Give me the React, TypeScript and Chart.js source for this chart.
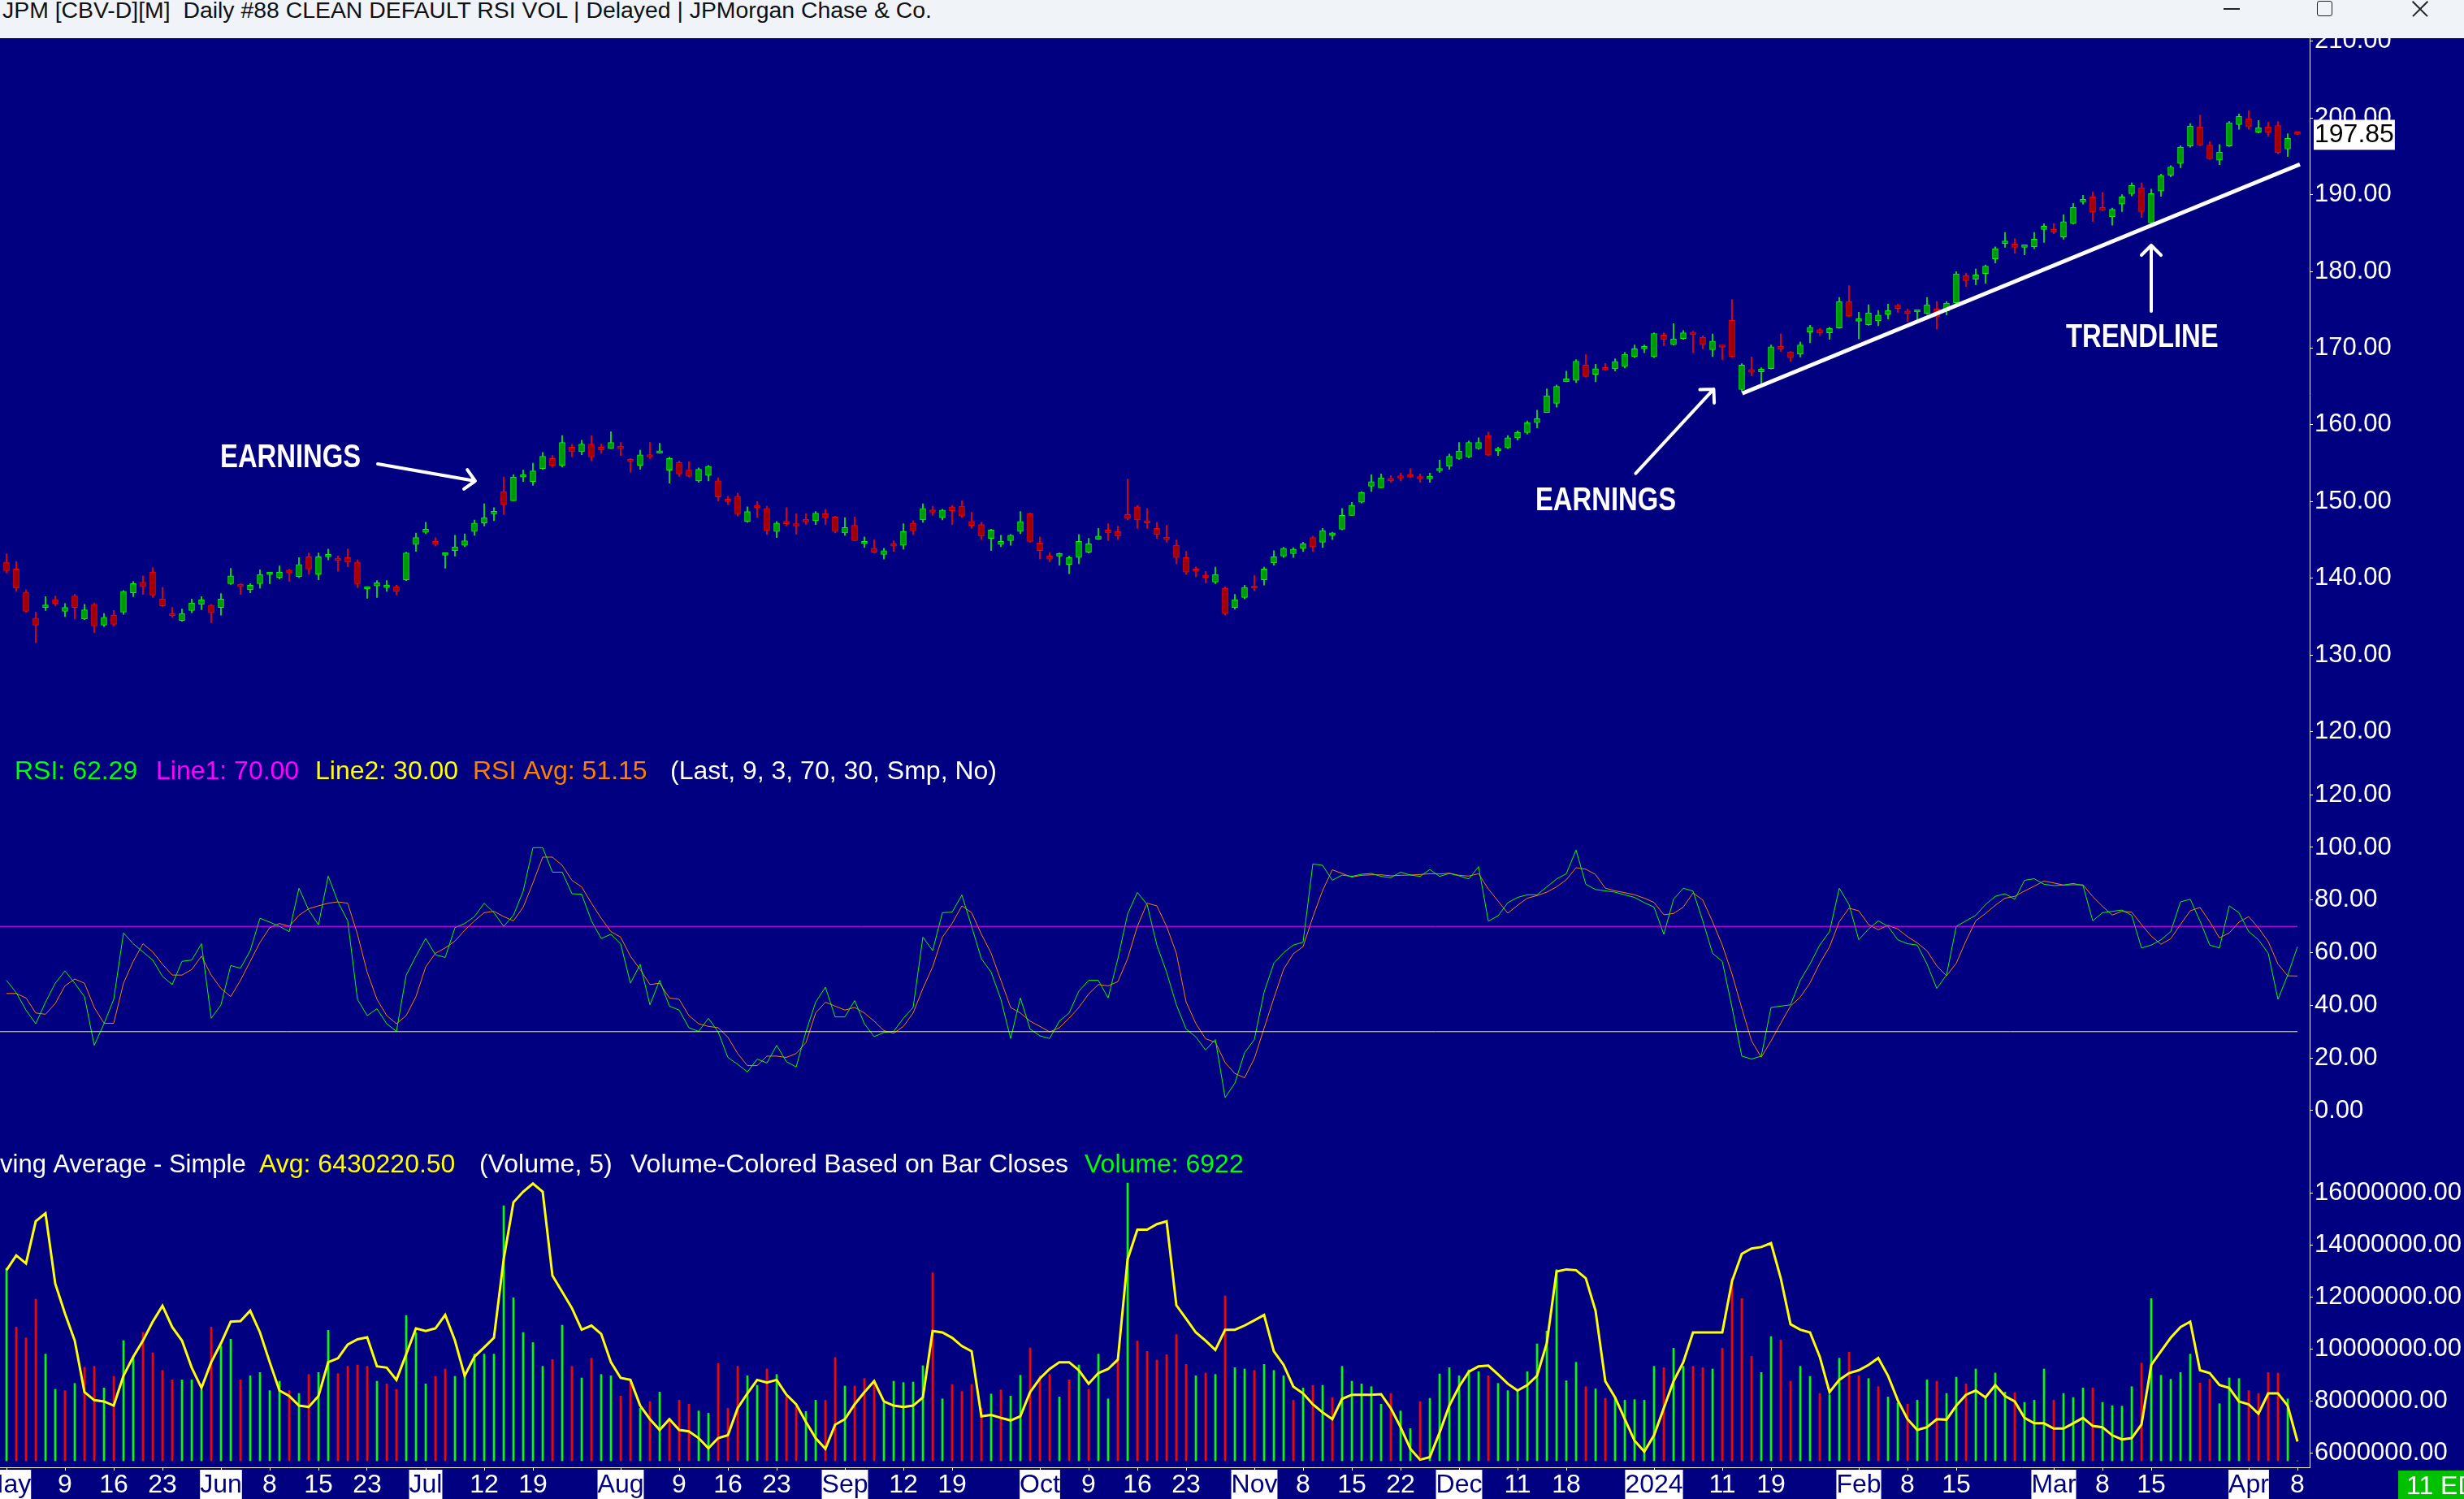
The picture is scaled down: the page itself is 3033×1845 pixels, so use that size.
import React, { useEffect, useRef } from 'react';
import { Chart, registerables } from 'chart.js';

Chart.register(...registerables);

const W = 3033;
const H = 1845;
const NAVY = '#000080';
const FONT = "'Liberation Sans', Arial, sans-serif";
const AXIS_W = 190;
const TITLE_H = 47;
const PRICE_H = 878;
const RSI_H = 475;
const VOL_H = 445;

// ---------------- data ----------------
const opens = [
  142.1,141.2,138.2,134.8,136.2,137.2,135.7,137.7,134.7,136.6,
  133.9,135.2,135.6,138.1,139.5,140.8,137.3,135.3,134.5,135.8,
  136.6,136.5,136.2,139.3,139.2,138.5,139.3,140.5,140.1,140.9,
  140.2,142.8,140.5,142.8,142.4,142.7,142.1,138.6,139.0,138.8,
  138.9,139.8,144.4,146.0,144.8,143.0,143.6,144.3,146.1,147.2,
  148.4,151.3,150.1,153.2,152.6,154.3,155.6,154.7,157.1,156.5,
  157.5,157.1,156.9,157.2,155.3,154.7,156.1,156.3,154.1,155.1,
  154.1,152.7,153.4,152.7,150.3,150.7,147.4,149.4,149.1,146.1,
  147.3,147.1,147.4,147.5,148.4,148.0,145.9,146.9,144.5,143.9,
  143.1,144.5,144.3,147.2,147.6,148.75,147.9,149.3,149.4,147.4,
  147.0,145.2,144.4,144.9,146.1,148.4,144.6,142.9,142.9,141.8,
  142.7,143.4,145.1,146.3,146.1,148.3,149.3,147.4,146.5,145.3,
  144.3,142.7,141.0,140.4,139.5,138.7,136.2,137.5,139.0,139.8,
  142.0,142.9,143.2,143.9,145.3,144.7,145.6,146.4,148.2,149.9,
  152.0,151.8,153.0,153.2,153.4,153.2,152.95,154.0,154.6,155.6,
  155.8,156.9,158.6,156.6,157.0,158.3,159.0,160.3,161.6,162.8,
  165.6,165.8,167.8,166.6,167.3,167.3,167.6,168.9,169.9,168.9,
  171.7,170.45,171.25,171.85,171.4,169.8,170.16,173.6,164.6,167.2,
  166.9,167.34,170.23,169.5,169.2,172.1,172.4,172.0,172.63,176.08,
  173.5,173.05,173.55,174.43,175.56,174.78,174.71,174.5,175.1,174.85,
  175.9,179.43,178.97,179.72,181.62,183.64,183.56,183.14,183.21,185.47,
  185.47,184.48,186.24,189.07,189.7,188.25,187.1,188.78,190.12,190.9,
  186.31,190.47,192.52,194.07,196.33,198.84,196.47,194.5,196.33,199.12,
  199.9,198.13,198.84,199.01,195.94,197.95
];
const highs = [
  143.2,142.2,138.5,135.6,137.6,137.7,136.7,137.9,136.6,136.8,
  135.4,135.8,138.4,139.6,140.3,141.4,138.8,136.2,136.0,137.3,
  137.6,136.6,138.0,141.3,139.3,139.3,141.1,140.7,141.6,141.2,
  142.7,143.3,143.3,143.8,142.9,143.8,142.4,138.9,139.7,139.7,
  139.1,143.4,145.9,147.3,145.3,143.3,145.6,145.8,147.6,149.7,
  149.2,153.2,153.5,154.1,155.0,156.4,156.0,158.6,157.5,158.0,
  158.6,157.5,159.1,157.7,155.6,156.7,157.7,157.6,155.8,155.3,
  155.2,154.4,154.7,153.1,150.7,151.1,149.3,150.0,149.4,147.4,
  149.2,148.4,148.4,148.7,149.0,148.1,147.9,148.0,145.4,145.0,
  143.9,144.9,147.1,147.5,149.7,149.4,149.0,149.5,150.1,148.6,
  147.3,146.4,145.6,145.7,148.7,148.5,145.4,143.35,143.3,142.9,
  145.7,145.2,146.5,147.1,146.8,152.9,149.5,149.1,147.3,146.9,
  145.0,143.5,141.5,140.9,141.45,138.9,137.9,139.1,140.4,141.45,
  143.6,144.05,144.0,144.7,145.5,146.5,146.0,149.1,149.9,151.3,
  153.5,153.6,153.4,153.7,154.3,153.6,153.7,155.4,156.2,157.7,
  157.9,158.3,159.05,157.1,158.6,159.2,160.5,161.9,164.7,165.2,
  167.0,168.5,169.2,167.9,168.0,168.6,169.45,170.4,170.4,172.0,
  172.0,173.2,172.3,172.2,171.57,171.85,170.3,176.3,167.97,168.85,
  167.44,170.4,171.85,169.56,170.8,172.98,172.56,172.7,176.6,178.13,
  174.67,175.66,174.92,175.73,175.73,175.1,174.92,176.6,176.08,176.08,
  179.96,179.79,180.32,180.85,183.2,185.08,184.27,183.42,185.08,186.2,
  186.24,187.37,188.85,189.91,190.37,190.3,188.25,190.0,191.54,191.54,
  190.72,192.66,193.79,196.37,199.26,200.35,196.9,196.54,199.54,200.5,
  200.95,199.65,199.44,199.54,197.95,198.05
];
const lows = [
  140.7,138.3,135.6,131.6,135.8,136.4,135.0,134.7,134.6,132.9,
  133.7,133.8,135.3,137.6,137.9,137.5,136.3,134.9,134.4,135.5,
  135.9,134.2,135.2,139.2,137.9,138.1,138.7,139.3,139.9,139.6,
  140.1,140.5,139.8,142.4,140.9,141.5,138.8,137.4,137.5,138.3,
  137.8,139.7,143.5,145.8,144.2,141.3,142.9,144.1,145.6,146.8,
  147.5,148.3,150.1,152.6,152.1,154.2,154.5,154.5,155.8,156.1,
  155.3,156.3,156.9,156.0,153.8,154.2,155.6,156.3,152.4,153.3,
  153.2,152.5,152.7,150.1,149.6,148.1,147.3,147.9,145.7,145.3,
  146.8,145.75,147.0,147.0,147.0,145.9,145.6,144.9,144.0,143.3,
  142.5,143.5,143.8,145.7,147.3,148.2,147.6,147.0,147.9,146.5,
  145.05,143.6,144.1,144.3,145.8,144.7,142.5,142.15,141.7,140.6,
  141.9,143.3,145.05,144.9,145.05,147.6,146.5,146.5,145.2,144.7,
  141.9,140.5,140.2,139.4,139.3,135.2,135.95,137.3,138.35,139.1,
  141.7,142.7,142.7,143.5,143.5,144.0,145.05,146.3,148.2,149.8,
  151.3,151.8,152.5,152.7,153.1,152.5,152.5,153.8,154.2,155.5,
  155.7,156.8,156.0,156.0,156.9,158.0,158.8,159.6,161.6,162.3,
  165.6,165.5,166.2,165.6,167.1,167.0,167.4,168.75,169.4,168.75,
  170.3,170.4,171.15,169.4,169.9,168.9,168.5,168.75,164.3,166.4,
  165.3,167.27,169.56,168.25,168.85,170.7,171.7,171.15,172.56,174.04,
  171.2,172.98,172.91,173.8,174.67,173.44,173.7,174.4,172.49,174.32,
  175.73,178.02,178.27,178.45,181.1,183.14,182.36,182.15,182.96,183.78,
  184.9,184.2,186.14,188.78,186.49,187.9,186.03,187.8,189.84,187.02,
  186.24,189.77,192.31,193.51,196.19,196.37,194.6,193.9,196.26,198.5,
  198.5,198.03,197.6,195.3,194.96,197.8
];
const closes = [
  141.0,138.7,135.7,133.9,136.4,136.7,136.2,136.2,135.9,133.8,
  134.9,134.0,138.3,139.3,138.9,137.8,136.4,135.1,135.4,136.8,
  137.2,135.5,137.3,140.3,138.9,139.1,140.5,140.6,140.8,140.7,
  141.8,141.2,142.8,143.0,142.3,142.1,139.3,138.9,139.4,139.0,
  138.3,143.3,145.3,146.4,144.4,143.2,144.1,144.9,147.2,147.9,
  148.7,149.6,153.2,153.4,154.0,155.9,154.7,157.7,156.5,157.5,
  155.8,156.7,157.7,156.9,155.2,156.1,155.8,156.6,155.6,153.6,
  153.3,154.2,154.6,150.6,150.0,148.4,148.7,149.2,146.2,147.2,
  147.1,146.8,147.35,148.5,147.9,146.1,146.6,144.9,144.8,143.4,
  143.6,144.2,146.1,146.2,149.1,148.6,148.9,148.8,148.1,146.9,
  145.5,146.3,144.8,145.6,147.4,144.8,143.6,142.5,143.2,142.7,
  144.8,144.5,145.5,145.9,145.5,147.8,147.6,147.2,145.7,145.05,
  142.7,140.8,140.9,140.1,140.5,135.4,137.2,138.8,138.7,141.2,
  142.8,143.9,143.8,144.5,144.1,146.2,145.7,148.2,149.5,151.2,
  152.6,153.1,152.7,153.05,153.2,152.95,153.3,154.2,155.9,156.6,
  157.7,157.7,156.05,156.7,158.3,159.0,160.3,160.8,163.8,165.0,
  166.0,168.3,166.3,167.3,167.15,168.25,169.2,169.9,170.1,171.9,
  171.15,171.2,172.0,171.75,170.45,170.9,170.1,168.9,167.8,166.85,
  167.27,170.16,169.87,168.75,170.4,172.7,172.0,172.56,176.08,174.15,
  173.6,174.6,174.3,174.92,175.17,174.5,174.8,175.66,174.04,175.87,
  179.68,178.8,179.54,180.67,182.96,183.8,183.14,183.28,184.2,185.9,
  185.12,186.49,188.32,189.35,187.73,188.0,188.08,189.7,191.18,187.8,
  190.12,192.49,193.61,196.19,198.94,196.47,194.67,195.56,199.37,200.18,
  198.84,198.73,198.13,195.49,197.32,197.85
];

const rsiValues = [
  49.5,44.8,38.2,33.0,41.2,48.4,53.1,48.4,43.3,24.8,
  33.0,42.3,67.5,63.4,60.3,57.2,51.0,47.9,56.7,57.2,
  63.4,35.1,40.2,55.1,54.1,60.8,73.1,71.6,70.0,68.0,
  84.5,76.2,70.6,89.1,79.3,72.1,42.3,36.1,38.7,33.0,
  30.1,51.5,58.7,65.4,59.2,58.2,69.5,71.1,73.7,78.8,
  75.2,70.0,74.2,83.4,99.9,99.9,90.6,90.6,82.4,82.2,
  72.1,65.4,67.0,63.4,48.4,55.6,40.2,49.5,39.7,38.2,
  31.5,30.1,35.1,29.9,20.2,17.6,14.7,19.6,18.1,24.8,
  18.6,16.6,29.9,41.2,46.9,35.6,35.6,41.8,33.0,28.1,
  29.7,30.1,35.1,39.2,65.9,60.8,75.2,75.4,81.9,70.0,
  57.7,52.6,42.3,27.4,42.8,31.0,28.4,27.4,34.0,37.1,
  45.4,49.5,49.5,42.8,57.7,74.7,82.9,78.3,62.9,52.6,
  40.2,31.0,28.0,23.0,27.0,5.0,10.4,22.0,27.0,45.0,
  56.0,60.0,62.9,64.0,93.7,93.2,87.5,89.5,89.0,89.8,
  90.1,89.0,88.5,90.6,89.5,89.0,91.6,89.0,90.1,89.2,
  88.0,92.7,72.0,74.0,79.0,81.0,82.0,82.0,85.0,88.0,
  90.0,99.0,86.0,84.0,83.5,83.0,82.0,81.0,79.0,77.3,
  67.0,80.3,84.5,83.4,72.1,59.8,56.7,39.2,20.7,19.6,
  20.7,39.2,39.7,40.2,49.5,55.7,62.9,68.0,84.5,78.3,
  64.9,69.0,72.1,70.0,64.9,63.4,62.9,55.7,46.4,51.5,
  70.0,72.1,74.2,78.3,81.4,82.4,80.3,87.5,88.1,86.0,
  85.5,85.7,86.3,85.5,72.1,75.2,75.7,76.2,74.2,61.8,
  62.9,64.9,68.0,79.3,80.3,72.1,62.9,61.8,77.8,75.2,
  68.0,64.9,59.8,42.3,51.5,62.29
];
const rsiAvgValues = [
  44.5,44.5,42.8,37.1,36.6,40.7,47.4,50.0,48.4,39.2,
  33.2,33.2,48.4,56.7,63.4,60.3,55.6,51.5,51.5,53.6,
  58.7,51.5,46.4,43.3,49.5,56.7,63.9,69.5,71.1,70.0,
  74.2,76.7,77.8,78.8,79.3,78.8,67.0,52.6,42.3,36.1,
  33.0,36.1,43.3,54.6,59.8,61.8,64.4,68.5,72.1,75.2,
  75.7,73.7,72.1,77.3,86.5,96.3,96.3,93.2,87.5,85.0,
  78.8,73.1,68.0,65.9,58.7,53.6,47.9,48.4,42.8,42.3,
  36.1,33.0,32.0,31.5,27.9,21.7,17.1,17.1,20.7,20.7,
  20.2,21.7,25.8,37.1,41.2,39.7,38.2,39.2,37.1,34.0,
  30.4,29.4,32.0,37.1,46.4,54.6,65.9,71.1,77.8,75.2,
  67.0,59.8,49.5,39.2,37.1,34.0,32.0,29.9,31.5,35.1,
  39.2,44.3,47.9,47.4,49.0,57.7,70.0,78.8,77.8,70.0,
  59.8,41.3,33.1,27.3,26.0,18.3,14.1,12.5,19.8,31.3,
  42.7,53.7,59.6,62.3,73.5,83.6,91.5,90.1,88.7,89.4,
  89.6,89.6,89.2,89.4,89.5,89.7,90.0,89.9,90.2,89.4,
  89.1,90.0,84.2,79.6,75.0,78.0,80.7,81.7,83.0,85.0,
  87.7,92.3,91.7,89.7,84.5,83.5,82.8,82.0,80.7,79.1,
  74.4,74.9,77.3,82.7,80.0,71.8,62.9,51.9,38.9,26.5,
  20.3,26.5,33.2,39.7,43.1,48.5,56.0,62.2,71.8,76.9,
  75.9,70.7,68.7,70.4,69.0,66.1,63.7,60.7,55.0,51.2,
  56.0,64.5,72.1,74.9,78.0,80.7,81.4,83.4,85.3,87.2,
  86.5,85.7,85.8,85.8,81.3,77.6,74.3,75.7,75.4,70.7,
  66.3,63.2,65.3,70.7,75.9,77.2,71.8,65.6,67.5,71.6,
  73.7,69.4,64.2,55.7,51.2,51.15
];
const rsiLine1 = 70;
const rsiLine2 = 30;

// volume in millions of shares (last bar: 6922 shares)
const volumesM = [
  20.17,14.01,12.88,16.93,11.18,7.49,7.35,8.11,9.81,9.90,
  7.63,8.85,12.59,10.89,13.44,11.32,9.47,8.48,8.48,8.48,
  7.43,14.01,12.03,12.74,8.48,8.91,9.25,7.35,8.34,7.35,
  7.06,9.05,9.25,13.67,9.13,9.90,10.04,9.90,8.34,8.06,
  7.49,15.23,13.44,8.06,8.85,9.62,8.85,8.91,11.18,11.18,
  11.18,26.72,17.08,13.44,12.39,9.90,10.61,14.21,9.90,8.68,
  10.75,9.05,8.91,6.78,8.48,5.50,6.21,7.20,4.37,6.35,
  5.93,5.22,4.99,10.18,5.50,9.90,8.91,7.91,9.62,9.05,
  6.69,5.64,5.16,6.35,6.35,10.83,7.83,7.83,8.62,8.42,
  6.07,8.34,8.20,8.25,9.96,19.69,6.49,8.00,7.26,8.00,
  5.50,7.00,7.43,6.78,8.96,11.83,8.91,9.05,6.69,8.48,
  10.04,7.49,11.18,6.49,10.61,29.1,12.54,11.46,10.55,11.12,
  13.22,10.10,8.91,9.19,9.05,17.27,9.76,9.62,9.47,10.10,
  9.47,8.91,6.35,7.63,7.91,7.91,6.63,9.90,8.34,8.06,
  7.77,5.93,7.06,5.22,3.37,6.21,6.55,9.10,9.76,8.91,
  9.53,9.33,8.91,8.11,7.35,7.35,9.33,12.25,13.59,20.03,
  8.39,10.32,7.77,7.54,6.55,6.69,6.35,6.41,6.35,9.90,
  9.76,11.80,9.90,9.90,9.76,9.62,11.80,19.12,16.99,10.95,
  9.25,13.02,12.65,8.34,9.90,8.85,7.06,6.92,10.75,11.37,
  8.91,8.62,7.77,6.69,6.07,5.93,6.35,8.48,8.34,7.06,
  8.76,8.06,9.62,6.78,9.19,7.20,7.15,6.12,6.35,9.62,
  6.35,7.06,6.63,7.63,7.63,6.12,5.78,5.73,7.77,10.24,
  16.99,8.96,8.54,9.25,11.18,8.14,8.56,5.98,8.68,8.62,
  7.35,7.06,9.25,9.19,6.49,0.006922
];
// 5-period simple moving average of volume, millions
const volumeMaM = [
  13.02,13.59,13.28,14.9,15.21,12.5,11.35,10.31,8.33,8.02,
  7.97,7.81,8.96,9.69,10.31,11.04,11.65,10.83,10.31,9.27,
  8.49,9.48,10.21,11.04,11.06,11.46,10.625,9.48,8.39,8.18,
  7.81,7.76,8.18,9.48,9.63,10.16,10.36,10.44,9.32,9.27,
  8.80,9.79,10.78,10.68,10.78,11.3,10.31,8.96,9.69,10.05,
  10.42,13.44,15.63,16.04,16.35,16.04,12.81,12.19,11.56,10.73,
  10.89,10.57,9.48,8.875,8.80,7.81,7.29,6.875,7.29,6.875,
  6.82,6.56,6.17,6.56,6.67,7.71,8.28,8.80,8.70,8.80,
  8.23,7.86,7.19,6.56,6.15,7.08,7.29,7.86,8.33,8.75,
  7.97,7.81,7.76,7.81,8.125,10.68,10.625,10.42,10.1,9.9,
  7.40,7.45,7.34,7.24,7.40,8.33,8.85,9.22,9.48,9.48,
  9.17,8.65,9.06,9.22,9.58,13.44,14.58,14.58,14.79,14.9,
  11.67,11.15,10.625,10.31,9.95,10.73,10.73,10.89,11.09,11.3,
  9.9,9.375,8.54,8.28,7.86,7.55,7.29,8.07,8.23,8.23,
  8.23,8.25,7.71,6.98,6.15,5.73,5.83,6.77,7.81,8.54,
  9.11,9.32,9.35,9.01,8.65,8.39,8.6,8.96,10.21,12.97,
  13.05,13.02,12.71,11.46,8.75,8.125,7.29,6.46,6.04,6.67,
  7.71,8.75,9.48,10.625,10.625,10.625,10.625,12.6,13.65,13.85,
  13.91,14.06,12.71,10.94,10.73,10.625,9.69,8.33,8.80,9.06,
  9.17,9.375,9.64,8.96,8.02,7.29,6.875,6.98,7.29,7.27,
  7.81,8.23,8.39,8.125,8.6,8.18,7.97,7.34,7.13,7.13,
  6.93,6.93,7.13,7.34,7.03,6.98,6.67,6.51,6.56,7.08,
  9.375,9.9,10.42,10.83,11.04,9.17,9.06,8.6,8.49,7.97,
  7.86,7.5,8.28,8.28,7.81,6.4302205
];

const xTickIndex = [0,6,11,16,22,27,32,37,43,49,54,63,69,74,79,86,92,97,106,111,116,121,128,133,138,143,149,155,160,169,176,181,190,195,200,210,215,220,230,235];
const xTickLabels = ['May','9','16','23','Jun','8','15','23','Jul','12','19','Aug','9','16','23','Sep','12','19','Oct','9','16','23','Nov','8','15','22','Dec','11','18','2024','11','19','Feb','8','15','Mar','8','15','Apr','8'];
const priceTicks = [120,130,140,150,160,170,180,190,200,210];
const rsiTicks = [0,20,40,60,80,100,120];
const volTicks = [6000000,8000000,10000000,12000000,14000000,16000000];

// annotations (bar index, price)
const trendLine = [{ x: 178.05, y: 164.09 }, { x: 235.25, y: 193.95 }];
const noteTexts = [
  { text: 'EARNINGS', x: 21.92, y: 154.48 },
  { text: 'EARNINGS', x: 156.83, y: 148.87 },
  { text: 'TRENDLINE', x: 211.25, y: 170.15 },
];
const noteArrows = [
  { from: [38.08, 154.9], to: [48.08, 152.68] },
  { from: [167.12, 153.67], to: [175.12, 164.65] },
  { from: [220.0, 174.81], to: [220.0, 183.39] },
];

// ---------------- helpers ----------------
const X_MIN = -8 / 12;
const X_MAX = (2843 - 8) / 12;
const idx = closes.map((_, i) => i);
const last = closes.length - 1;

const GREEN = '#00ff00';
const RED = '#ff0000';
const GREEN_FILL = '#009a00';
const RED_FILL = '#a00000';

const candleUp = idx.map((i) => closes[i] >= opens[i]);
const volUp = idx.map((i) => (i === 0 ? true : closes[i] >= closes[i - 1]));

const bgPlugin = {
  id: 'navyBg',
  beforeDraw(chart: any) {
    const { ctx, width, height } = chart;
    ctx.save();
    ctx.fillStyle = NAVY;
    ctx.fillRect(0, 0, width, height);
    ctx.restore();
  },
};

function hiddenX() {
  return {
    type: 'linear', min: X_MIN, max: X_MAX, display: false, offset: false, grid: { offset: false },
    afterFit: (s: any) => { s.paddingLeft = 0; s.paddingRight = 0; },
  };
}

function rightAxis(min: number, max: number, ticks: number[], extra: any = {}) {
  return {
    type: 'linear',
    position: 'right',
    min,
    max,
    afterBuildTicks: (s: any) => {
      s.ticks = ticks.map((v) => ({ value: v }));
    },
    afterFit: (s: any) => {
      s.width = AXIS_W;
      s.paddingTop = 0;
      s.paddingBottom = 0;
    },
    ticks: {
      color: '#ffffff',
      font: { family: FONT, size: 31 },
      padding: 2,
      autoSkip: false,
      callback: (v: any) => Number(v).toFixed(2),
    },
    grid: { drawOnChartArea: false, drawTicks: true, tickLength: 4, color: '#ffffff', tickWidth: 1 },
    border: { display: true, color: '#ffffff', width: 1 },
    ...extra,
  };
}

const baseOptions = {
  animation: false,
  responsive: false,
  maintainAspectRatio: false,
  devicePixelRatio: 1,
  events: [],
  layout: { padding: 0, autoPadding: false },
  plugins: { legend: { display: false }, tooltip: { enabled: false } },
};

function priceConfig(): any {
  const notesPlugin = {
    id: 'notes',
    afterDatasetsDraw(chart: any) {
      const { ctx } = chart;
      const xs = chart.scales.x;
      const ys = chart.scales.y;
      ctx.save();
      ctx.strokeStyle = '#ffffff';
      ctx.fillStyle = '#ffffff';
      ctx.lineWidth = 4;
      ctx.lineCap = 'round';
      noteArrows.forEach((a) => {
        const x1 = xs.getPixelForValue(a.from[0]);
        const y1 = ys.getPixelForValue(a.from[1]);
        const x2 = xs.getPixelForValue(a.to[0]);
        const y2 = ys.getPixelForValue(a.to[1]);
        const ang = Math.atan2(y2 - y1, x2 - x1);
        ctx.beginPath();
        ctx.moveTo(x1, y1);
        ctx.lineTo(x2, y2);
        [Math.PI * 0.75, -Math.PI * 0.75].forEach((d) => {
          ctx.moveTo(x2, y2);
          ctx.lineTo(x2 + 17 * Math.cos(ang + d), y2 + 17 * Math.sin(ang + d));
        });
        ctx.stroke();
      });
      noteTexts.forEach((t) => {
        ctx.save();
        ctx.translate(xs.getPixelForValue(t.x), ys.getPixelForValue(t.y));
        ctx.scale(0.82, 1);
        ctx.font = `bold 40px ${FONT}`;
        ctx.textAlign = 'left';
        ctx.textBaseline = 'alphabetic';
        ctx.fillText(t.text, 0, 0);
        ctx.restore();
      });
      ctx.restore();
    },
    afterDraw(chart: any) {
      const { ctx } = chart;
      const ys = chart.scales.y;
      const yy = ys.getPixelForValue(closes[last]);
      const txt = closes[last].toFixed(2);
      ctx.save();
      ctx.font = `32px ${FONT}`;
      const w = ctx.measureText(txt).width;
      ctx.fillStyle = '#ffffff';
      ctx.fillRect(ys.left + 5, yy - 18, w + 2, 37);
      ctx.fillStyle = '#000000';
      ctx.textAlign = 'left';
      ctx.textBaseline = 'middle';
      ctx.fillText(txt, ys.left + 6, yy + 1);
      ctx.restore();
    },
  };
  return {
    type: 'bar',
    data: {
      datasets: [
        {
          type: 'bar',
          label: 'wick',
          data: idx.map((i) => ({ x: i, y: [lows[i], highs[i]] })),
          backgroundColor: idx.map((i) => (candleUp[i] ? GREEN : RED)),
          borderWidth: 0,
          barThickness: 1,
          grouped: false,
          order: 3,
        },
        {
          type: 'bar',
          label: 'body',
          data: idx.map((i) => ({ x: i, y: [opens[i], closes[i]] })),
          backgroundColor: idx.map((i) => (candleUp[i] ? GREEN_FILL : RED_FILL)),
          borderColor: idx.map((i) => (candleUp[i] ? GREEN : RED)),
          borderWidth: 1,
          borderSkipped: false,
          barThickness: 7,
          minBarLength: 3,
          grouped: false,
          order: 2,
        },
        {
          type: 'line',
          label: 'trend',
          data: trendLine,
          borderColor: '#ffffff',
          borderWidth: 5,
          pointRadius: 0,
          tension: 0,
          order: 1,
        },
      ],
    },
    options: {
      ...baseOptions,
      scales: {
        x: hiddenX(),
        y: rightAxis(117.42, 210.39, priceTicks),
      },
    },
    plugins: [bgPlugin, notesPlugin],
  };
}

function rsiConfig(): any {
  const legendPlugin = {
    id: 'rsiLegend',
    afterDraw(chart: any) {
      const { ctx } = chart;
      const segs = [
        { t: `RSI: ${rsiValues[last].toFixed(2)}`, c: GREEN, x: 18 },
        { t: `Line1: ${rsiLine1.toFixed(2)}`, c: '#ff00ff', x: 192 },
        { t: `Line2: ${rsiLine2.toFixed(2)}`, c: '#ffff00', x: 388 },
        { t: `RSI Avg: ${rsiAvgValues[last].toFixed(2)}`, c: '#ff8000', x: 582 },
        { t: '(Last, 9, 3, 70, 30, Smp, No)', c: '#ffffff', x: 825 },
      ];
      ctx.save();
      ctx.font = `32px ${FONT}`;
      ctx.textAlign = 'left';
      ctx.textBaseline = 'alphabetic';
      segs.forEach((s) => {
        ctx.fillStyle = s.c;
        ctx.fillText(s.t, s.x, 34);
      });
      ctx.restore();
    },
  };
  const lvl = (v: number) => [{ x: X_MIN, y: v }, { x: last, y: v }];
  return {
    type: 'line',
    data: {
      datasets: [
        { label: 'Line1', data: lvl(rsiLine1), borderColor: '#ff00ff', borderWidth: 1, pointRadius: 0, order: 1 },
        { label: 'Line2', data: lvl(rsiLine2), borderColor: '#ffff00', borderWidth: 1, pointRadius: 0, order: 1 },
        { label: 'RSI Avg', data: idx.map((i) => ({ x: i, y: rsiAvgValues[i] })), borderColor: '#ff8000', borderWidth: 1, pointRadius: 0, tension: 0, order: 3 },
        { label: 'RSI', data: idx.map((i) => ({ x: i, y: rsiValues[i] })), borderColor: GREEN, borderWidth: 1, pointRadius: 0, tension: 0, order: 2 },
      ],
    },
    options: {
      ...baseOptions,
      scales: {
        x: hiddenX(),
        y: rightAxis(-10.19, 136.42, rsiTicks),
      },
    },
    plugins: [bgPlugin, legendPlugin],
  };
}

function volConfig(): any {
  const isMonth = (v: any) => {
    const k = xTickIndex.indexOf(Number(v));
    return k >= 0 && !/^\d{1,2}$/.test(xTickLabels[k]);
  };
  const labelFor = (v: any) => {
    const k = xTickIndex.indexOf(Number(v));
    return k >= 0 ? xTickLabels[k] : '';
  };
  const legendPlugin = {
    id: 'volLegend',
    afterDraw(chart: any) {
      const { ctx } = chart;
      ctx.save();
      ctx.textBaseline = 'alphabetic';
      ctx.textAlign = 'left';
      ctx.fillStyle = '#ffffff';
      ctx.font = `31px ${FONT}`;
      const cut = ctx.measureText('Mo').width;
      ctx.fillText('Moving Average - Simple', -cut, 43);
      ctx.font = `32px ${FONT}`;
      ctx.fillStyle = '#ffff00';
      ctx.fillText(`Avg: ${(volumeMaM[last] * 1e6).toFixed(2)}`, 319, 43);
      ctx.fillStyle = '#ffffff';
      ctx.fillText('(Volume, 5)', 590, 43);
      ctx.fillText('Volume-Colored Based on Bar Closes', 776, 43);
      ctx.fillStyle = GREEN;
      ctx.fillText(`Volume: ${Math.round(volumesM[last] * 1e6)}`, 1335, 43);
      // time box at bottom right
      ctx.fillStyle = '#00c000';
      ctx.fillRect(2952, 410, 81, 35);
      ctx.fillStyle = '#ffffff';
      ctx.fillText('11 EDT', 2962, 439);
      ctx.restore();
    },
  };
  return {
    type: 'bar',
    data: {
      datasets: [
        {
          type: 'line',
          label: 'MA',
          data: idx.map((i) => ({ x: i, y: volumeMaM[i] * 1e6 })),
          yAxisID: 'y',
          borderColor: '#ffff00',
          borderWidth: 3,
          pointRadius: 0,
          tension: 0,
          order: 1,
        },
        {
          type: 'bar',
          label: 'Volume',
          data: idx.map((i) => ({ x: i, y: volumesM[i] * 1e6 })),
          yAxisID: 'yBar',
          backgroundColor: idx.map((i) => (volUp[i] ? GREEN : RED)),
          borderWidth: 0,
          barThickness: 2,
          grouped: false,
          order: 2,
        },
      ],
    },
    options: {
      ...baseOptions,
      scales: {
        x: {
          type: 'linear',
          min: X_MIN,
          max: X_MAX,
          offset: false,
          position: 'bottom',
          afterBuildTicks: (s: any) => {
            s.ticks = xTickIndex.map((v) => ({ value: v }));
          },
          afterFit: (s: any) => {
            s.height = 39;
            s.paddingLeft = 0;
            s.paddingRight = 0;
          },
          ticks: {
            autoSkip: false,
            maxRotation: 0,
            minRotation: 0,
            padding: -1,
            font: { family: FONT, size: 32 },
            color: (c: any) => (isMonth(c.tick && c.tick.value) ? NAVY : '#ffffff'),
            showLabelBackdrop: true,
            backdropColor: (c: any) => (isMonth(c.tick && c.tick.value) ? '#ffffff' : 'rgba(0,0,0,0)'),
            backdropPadding: { top: 0, bottom: 2, left: 0, right: 0 },
            callback: (v: any) => labelFor(v),
          },
          grid: { drawOnChartArea: false, drawTicks: true, tickLength: 4, color: '#ffffff', offset: false },
          border: { display: true, color: '#ffffff', width: 1 },
        },
        y: rightAxis(5437500, 18125000, volTicks),
        yBar: { type: 'linear', display: false, min: -681000, max: 33872000 },
      },
    },
    plugins: [bgPlugin, legendPlugin],
  };
}

export default function App() {
  const priceRef = useRef<HTMLCanvasElement>(null);
  const rsiRef = useRef<HTMLCanvasElement>(null);
  const volRef = useRef<HTMLCanvasElement>(null);

  useEffect(() => {
    document.body.style.margin = '0';
    document.body.style.overflow = 'hidden';
    const charts: Chart[] = [];
    if (priceRef.current) charts.push(new Chart(priceRef.current, priceConfig()));
    if (rsiRef.current) charts.push(new Chart(rsiRef.current, rsiConfig()));
    if (volRef.current) charts.push(new Chart(volRef.current, volConfig()));
    return () => charts.forEach((c) => c.destroy());
  }, []);

  const canvasStyle = (top: number, h: number): React.CSSProperties => ({
    position: 'absolute',
    left: 0,
    top,
    width: W,
    height: h,
    display: 'block',
  });

  return (
    <div style={{ position: 'absolute', left: 0, top: 0, width: W, height: H, background: NAVY, overflow: 'hidden' }}>
      <div style={{ position: 'absolute', left: 0, top: 0, width: W, height: TITLE_H, background: '#f0f3f8', overflow: 'hidden' }}>
        <div
          style={{
            position: 'absolute',
            left: 3,
            top: -2,
            fontFamily: FONT,
            fontSize: '28.4px',
            lineHeight: '28.4px',
            color: '#111111',
            whiteSpace: 'pre',
          }}
        >
          {'JPM [CBV-D][M]  Daily #88 CLEAN DEFAULT RSI VOL | Delayed | JPMorgan Chase & Co.'}
        </div>
        <div style={{ position: 'absolute', left: 2737, top: 10, width: 20, height: 1.5, background: '#222' }} />
        <div style={{ position: 'absolute', left: 2852, top: 1, width: 17, height: 17, border: '1.5px solid #222', borderRadius: 3 }} />
        <div style={{ position: 'absolute', left: 2966, top: 10, width: 26, height: 1.5, background: '#222', transform: 'rotate(45deg)' }} />
        <div style={{ position: 'absolute', left: 2966, top: 10, width: 26, height: 1.5, background: '#222', transform: 'rotate(-45deg)' }} />
      </div>
      <canvas ref={priceRef} width={W} height={PRICE_H} style={canvasStyle(TITLE_H, PRICE_H)} />
      <canvas ref={rsiRef} width={W} height={RSI_H} style={canvasStyle(TITLE_H + PRICE_H, RSI_H)} />
      <canvas ref={volRef} width={W} height={VOL_H} style={canvasStyle(TITLE_H + PRICE_H + RSI_H, VOL_H)} />
    </div>
  );
}
